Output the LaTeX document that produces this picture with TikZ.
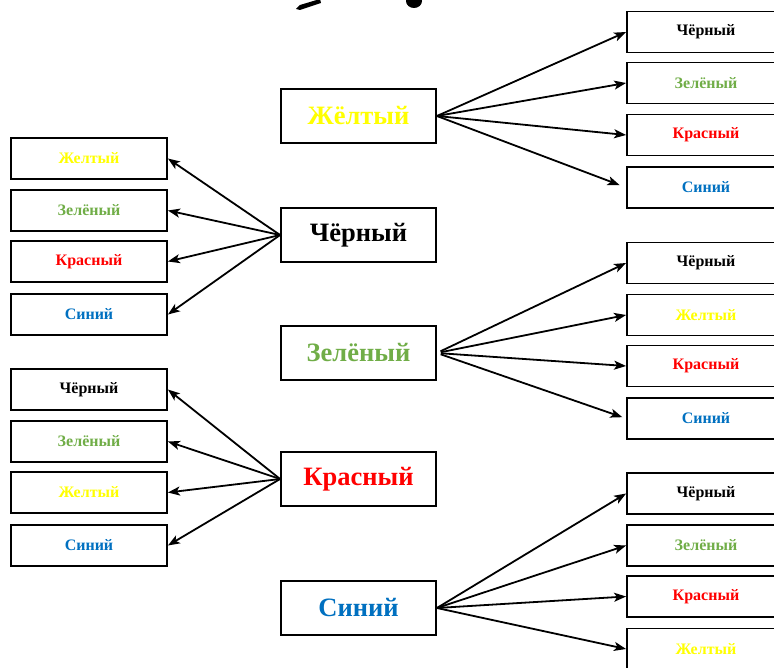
\documentclass[tikz,border=0pt]{standalone}
\usepackage{fontspec}
\setmainfont{Liberation Serif}
\usetikzlibrary{arrows.meta}
\definecolor{cyellow}{RGB}{255,255,0}
\definecolor{cgreen}{RGB}{112,173,71}
\definecolor{cred}{RGB}{255,0,0}
\definecolor{cblue}{RGB}{0,112,192}
\begin{document}
\begin{tikzpicture}[x=1pt,y=-1pt,
  hub/.style={draw, line width=1.8pt, minimum width=155pt, minimum height=54pt,
    inner sep=0pt, font=\fontsize{26.5}{26.5}\selectfont\bfseries},
  leaf/.style={draw, line width=1.8pt, minimum width=156pt, minimum height=41pt,
    inner sep=0pt, font=\fontsize{16}{16}\selectfont\bfseries},
  link/.style={line width=1.8pt, -{Stealth[length=12pt,width=9pt,inset=3pt]}}]
\useasboundingbox (0,0) rectangle (774,668);
\clip (0,0) rectangle (774,668);

% brush marks along the top edge
\fill (296,9) -- (300,5) -- (320,-1) -- (321,3) -- (300,10) -- cycle;
\fill (414,1) ellipse (8pt and 7pt);

% central colour boxes
\node[hub, text=cyellow] (yel) at (358.5,116) {Жёлтый};
\node[hub, text=black]   (blk) at (358.5,235) {Чёрный};
\node[hub, text=cgreen]  (grn) at (358.5,353) {Зелёный};
\node[hub, text=cred]    (red) at (358.5,479) {Красный};
\node[hub, text=cblue]   (blu) at (358.5,608) {Синий};

% left column, first group
\node[leaf, text=cyellow] (l1) at (89,158.5) {Желтый};
\node[leaf, text=cgreen]  (l2) at (89,210.5) {Зелёный};
\node[leaf, text=cred]    (l3) at (89,261.5) {Красный};
\node[leaf, text=cblue]   (l4) at (89,314.5) {Синий};
% left column, second group
\node[leaf, text=black]   (l5) at (89,389.5) {Чёрный};
\node[leaf, text=cgreen]  (l6) at (89,441.5) {Зелёный};
\node[leaf, text=cyellow] (l7) at (89,492.5) {Желтый};
\node[leaf, text=cblue]   (l8) at (89,545.5) {Синий};

% right column
\node[leaf, minimum width=158pt, text=black]   (r1) at (706,32)    {Чёрный};
\node[leaf, minimum width=158pt, text=cgreen]  (r2) at (706,83)    {Зелёный};
\node[leaf, minimum width=158pt, text=cred]    (r3) at (706,135)   {Красный};
\node[leaf, minimum width=158pt, text=cblue]   (r4) at (706,187.5) {Синий};
\node[leaf, minimum width=158pt, text=black]   (r5) at (706,263)   {Чёрный};
\node[leaf, minimum width=158pt, text=cyellow] (r6) at (706,315)   {Желтый};
\node[leaf, minimum width=158pt, text=cred]    (r7) at (706,366)   {Красный};
\node[leaf, minimum width=158pt, text=cblue]   (r8) at (706,418.5) {Синий};
\node[leaf, minimum width=158pt, text=black]   (r9) at (706,493.5) {Чёрный};
\node[leaf, minimum width=158pt, text=cgreen]  (r10) at (706,545.5) {Зелёный};
\node[leaf, minimum width=158pt, text=cred]    (r11) at (706,596.5) {Красный};
\node[leaf, minimum width=158pt, text=cyellow] (r12) at (706,649)   {Желтый};

% connectors
\foreach \t in {r1,r2,r3} \draw[link] (yel.east) -- (\t.west);
\draw[link, shorten >=7pt] (yel.east) -- (r4.west);
\foreach \t in {l1,l2,l3,l4} \draw[link] (blk.west) -- (\t.east);
\foreach \t in {r5,r6,r7} \draw[link, shorten <=4pt] (grn.east) -- (\t.west);
\draw[link, shorten <=4pt, shorten >=4pt] (grn.east) -- (r8.west);
\foreach \t in {l5,l6,l7,l8} \draw[link] (red.west) -- (\t.east);
\foreach \t in {r9,r10,r11,r12} \draw[link] (blu.east) -- (\t.west);
\end{tikzpicture}
\end{document}
